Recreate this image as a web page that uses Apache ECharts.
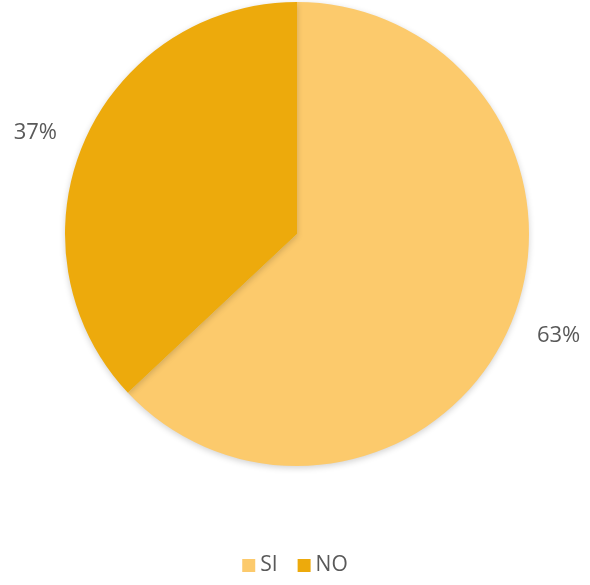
<!DOCTYPE html>
<html>
<head>
<meta charset="utf-8">
<style>
  html, body { margin: 0; padding: 0; background: #ffffff; }
  #chart { width: 590px; height: 585px; }
</style>
<script src="https://cdn.jsdelivr.net/npm/echarts@6/dist/echarts.min.js"></script>
</head>
<body>
<div id="chart"></div>
<script>
// Answer categories and their shares (percent)
const categories = ['SI', 'NO'];
const shares = [63, 37];
const sliceColors = ['#FCCA6C', '#EDAA0C'];

const chart = echarts.init(document.getElementById('chart'));

const pieData = categories.map((name, i) => ({
  name: name,
  value: shares[i],
  itemStyle: { color: sliceColors[i] }
}));

chart.setOption({
  animation: false,
  backgroundColor: '#ffffff',
  legend: {
    data: categories,
    bottom: 4,
    left: 'center',
    itemWidth: 13,
    itemHeight: 13,
    itemGap: 20,
    icon: 'rect',
    textStyle: { fontFamily: 'Open Sans', fontSize: 21, color: '#595959' }
  },
  series: [{
    type: 'pie',
    center: [297, 234],
    radius: 232,
    startAngle: 90,
    clockwise: true,
    data: pieData,
    itemStyle: {
      shadowBlur: 6,
      shadowOffsetY: 2,
      shadowColor: 'rgba(0,0,0,0.18)'
    },
    label: {
      show: true,
      position: 'outside',
      formatter: '{d}%',
      fontFamily: 'Open Sans',
      fontSize: 22,
      color: '#595959',
      overflow: 'none',
      edgeDistance: 0
    },
    labelLine: { show: false, length: 24, length2: 0 },
    emphasis: { disabled: true }
  }]
});
</script>
</body>
</html>
